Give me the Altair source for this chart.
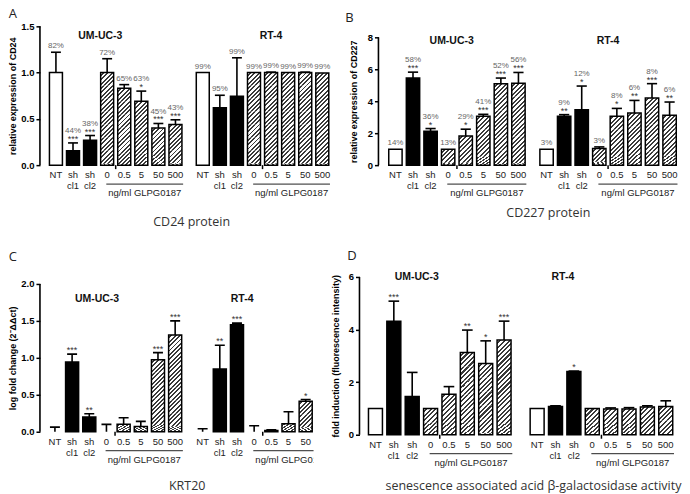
import altair as alt
import pandas as pd

# ---------------- data ----------------
LABELS = ["NT", "sh\ncl1", "sh\ncl2", "0", "0.5", "5", "50", "500"]
KINDS = ["open", "solid", "solid", "hatch", "hatch", "hatch", "hatch", "hatch"]
GROUPS = ["UM-UC-3", "RT-4"]
DOSE_LABEL = "ng/ml GLPG0187"

# Panel A - CD24 protein
CD24_UM_MEAN = [1.00, 0.155, 0.27, 1.00, 0.83, 0.69, 0.40, 0.44]
CD24_UM_ERR = [1.22, 0.24, 0.32, 1.15, 0.87, 0.80, 0.45, 0.49]
CD24_UM_PCT = ["82%", "44%", "38%", "72%", "65%", "63%", "45%", "43%"]
CD24_UM_SIG = ["", "***", "***", "", "", "*", "***", "***"]
CD24_RT_MEAN = [1.00, 0.62, 0.745, 1.00, 1.00, 1.00, 1.00, 0.995]
CD24_RT_ERR = [1.00, 0.755, 1.16, 1.00, 1.005, 1.00, 1.005, 0.995]
CD24_RT_PCT = ["99%", "95%", "99%", "99%", "99%", "99%", "99%", "99%"]
CD24_RT_SIG = ["", "", "", "", "", "", "", ""]

# Panel B - CD227 protein
CD227_UM_MEAN = [1.00, 5.45, 2.12, 1.00, 1.83, 3.06, 5.09, 5.13]
CD227_UM_ERR = [1.00, 5.82, 2.29, 1.00, 2.25, 3.18, 5.45, 5.80]
CD227_UM_PCT = ["14%", "58%", "36%", "13%", "29%", "41%", "52%", "56%"]
CD227_UM_SIG = ["", "***", "*", "", "*", "***", "***", "***"]
CD227_RT_MEAN = [1.00, 3.06, 3.47, 1.04, 3.06, 3.26, 4.20, 3.12]
CD227_RT_ERR = [1.00, 3.16, 4.95, 1.14, 3.55, 4.05, 5.10, 3.95]
CD227_RT_PCT = ["3%", "9%", "12%", "3%", "8%", "6%", "8%", "6%"]
CD227_RT_SIG = ["", "**", "*", "", "*", "**", "***", "**"]

# Panel C - KRT20 (RT-4 500 ng/ml bar is cut off in the figure)
KRT20_UM_MEAN = [0.00, 0.944, 0.198, 0.00, 0.10, 0.07, 0.975, 1.31]
KRT20_UM_ERR = [0.063, 1.05, 0.243, 0.10, 0.19, 0.14, 1.07, 1.50]
KRT20_UM_SIG = ["", "***", "**", "", "", "", "***", "***"]
KRT20_RT_MEAN = [0.00, 0.85, 1.447, 0.00, 0.018, 0.108, 0.413]
KRT20_RT_ERR = [0.04, 1.17, 1.47, 0.08, 0.025, 0.27, 0.436]
KRT20_RT_SIG = ["", "**", "***", "", "", "", "*"]

# Panel D - senescence associated acid beta-galactosidase activity
SA_UM_MEAN = [1.00, 4.32, 1.45, 1.00, 1.54, 3.13, 2.71, 3.60]
SA_UM_ERR = [1.00, 5.08, 2.37, 1.00, 1.83, 3.98, 3.57, 4.32]
SA_UM_SIG = ["", "***", "", "", "", "**", "*", "***"]
SA_RT_MEAN = [1.00, 1.07, 2.40, 1.00, 0.98, 0.98, 1.05, 1.07]
SA_RT_ERR = [1.00, 1.10, 2.42, 1.00, 1.02, 1.03, 1.10, 1.29]
SA_RT_SIG = ["", "", "*", "", "", "", "", ""]

# ---------------- layout (pixels) ----------------
PANELS = [
    dict(letter="A", series=[(CD24_UM_MEAN, CD24_UM_ERR, CD24_UM_PCT, CD24_UM_SIG),
                             (CD24_RT_MEAN, CD24_RT_ERR, CD24_RT_PCT, CD24_RT_SIG)],
         step=17.1, x0_px=56, axis_px=40, right_px=338, rt_off=8.6,
         ymax=1.5, h_data=139, top_ext=1, bot_ext=66,
         ticks=[0, 0.5, 1.0, 1.5], fmt=".1f", title="relative expression of CD24", title_pad=3,
         grp_x=[2.6, 12.6], grp_y=1.40, caption="CD24 protein", cap_x=7.95, cap_px=57,
         clip=False, letter_dx=0, letter_off=0),
    dict(letter="B", series=[(CD227_UM_MEAN, CD227_UM_ERR, CD227_UM_PCT, CD227_UM_SIG),
                             (CD227_RT_MEAN, CD227_RT_ERR, CD227_RT_PCT, CD227_RT_SIG)],
         step=17.6, x0_px=393, axis_px=376, right_px=676, rt_off=8.6,
         ymax=8, h_data=128, top_ext=12, bot_ext=66,
         ticks=[0, 2, 4, 6, 8], fmt="d", title="relative expression of CD227", title_pad=9,
         grp_x=[3.2, 12.1], grp_y=7.8, caption="CD227 protein", cap_x=8.7, cap_px=48,
         clip=False, letter_dx=-4, letter_off=0),
    dict(letter="C", series=[(KRT20_UM_MEAN, KRT20_UM_ERR, None, KRT20_UM_SIG),
                             (KRT20_RT_MEAN, KRT20_RT_ERR, None, KRT20_RT_SIG)],
         step=17.2, x0_px=55, axis_px=40, right_px=314, rt_off=8.6,
         ymax=2, h_data=148, top_ext=11, bot_ext=64,
         ticks=[0, 0.5, 1.0, 1.5, 2.0], fmt=".1f", title="log fold change (2⁻ΔΔct)", title_pad=3,
         grp_x=[2.45, 10.9], grp_y=1.8, caption="KRT20", cap_x=7.7, cap_px=54,
         clip=True, letter_dx=0, letter_off=9),
    dict(letter="D", series=[(SA_UM_MEAN, SA_UM_ERR, None, SA_UM_SIG),
                             (SA_RT_MEAN, SA_RT_ERR, None, SA_RT_SIG)],
         step=18.4, x0_px=376, axis_px=360, right_px=678, rt_off=8.8,
         ymax=6, h_data=158, top_ext=4, bot_ext=61,
         ticks=[0, 2, 4, 6], fmt="d", title="fold induction (fluorescence intensity)", title_pad=8,
         grp_x=[2.25, 10.2], grp_y=6.0,
         caption="senescence associated acid β-galactosidase activity", cap_x=8.6, cap_px=51,
         clip=False, letter_dx=16, letter_off=9),
]

BAR_FRAC = 0.76
CAP_FRAC = 0.58
FONT = "Liberation Sans"

# diagonal hatch fill for the GLPG0187 bars
N_STRIPES = 6
_stops = []
for i in range(N_STRIPES):
    a = i / N_STRIPES
    b = (i + 0.55) / N_STRIPES
    c = (i + 1) / N_STRIPES
    _stops += [alt.GradientStop(offset=a, color="#ffffff"),
               alt.GradientStop(offset=b, color="#ffffff"),
               alt.GradientStop(offset=b, color="#3a3a3a"),
               alt.GradientStop(offset=c, color="#3a3a3a")]
HATCH = alt.LinearGradient(gradient="linear", stops=_stops, x1=0, y1=0, x2=1, y2=1)


def build_panel(cfg):
    step = cfg["step"]
    xmin = (cfg["axis_px"] - cfg["x0_px"]) / step
    xmax = (cfg["right_px"] - cfg["x0_px"]) / step
    width = cfg["right_px"] - cfg["axis_px"]
    ppu = cfg["h_data"] / cfg["ymax"]
    ylo = -cfg["bot_ext"] / ppu
    yhi = cfg["ymax"] + cfg["top_ext"] / ppu
    height = cfg["h_data"] + cfg["top_ext"] + cfg["bot_ext"]
    clip = cfg["clip"]

    rows = []
    for g, (gname, (means, errs, pcts, sigs)) in enumerate(zip(GROUPS, cfg["series"])):
        off = 0.0 if g == 0 else cfg["rt_off"]
        for i, m in enumerate(means):
            rows.append(dict(group=gname, label=LABELS[i], kind=KINDS[i], mean=m, err=errs[i],
                             pct=(pcts[i] if pcts else ""), sig=sigs[i], pos=i + off))
    df = pd.DataFrame(rows)
    df["zero"] = 0.0
    df["xl"] = df["pos"] - BAR_FRAC / 2
    df["xr"] = df["pos"] + BAR_FRAC / 2
    df["cl"] = df["pos"] - CAP_FRAC / 2
    df["cr"] = df["pos"] + CAP_FRAC / 2

    xs = alt.Scale(domain=[xmin, xmax], nice=False, zero=False)
    ys = alt.Scale(domain=[ylo, yhi], nice=False, zero=False)
    yax = alt.Axis(values=cfg["ticks"], format=cfg["fmt"], title=cfg["title"],
                   titleY=cfg["top_ext"] + cfg["h_data"] / 2, titlePadding=cfg["title_pad"],
                   domain=False, ticks=True, tickSize=4, tickWidth=1.5, tickColor="black",
                   grid=False, labelFont=FONT, labelFontWeight="bold", labelFontSize=9.5,
                   labelColor="black", labelPadding=2, titleFont=FONT, titleFontWeight="bold",
                   titleFontSize=9, titleColor="black")

    def X(f):
        return alt.X(f, type="quantitative", scale=xs, axis=None)

    def Y(f):
        return alt.Y(f, type="quantitative", scale=ys, axis=yax)

    layers = []
    bars = df[(df["kind"] != "hatch") & (df["mean"] > 0)]
    layers.append(alt.Chart(bars).mark_bar(stroke="black", strokeWidth=1.5, clip=clip).encode(
        x=X("xl"), x2="xr", y=Y("zero"), y2="mean",
        fill=alt.Fill("kind:N", scale=alt.Scale(domain=["open", "solid"], range=["white", "black"]),
                      legend=None)))

    # hatch segments (square tiles so the stripes stay at 45 degrees)
    seg_h = BAR_FRAC * step / ppu
    segs = []
    for r in df[(df["kind"] == "hatch") & (df["mean"] > 0)].itertuples():
        top = r.mean
        while top > 1e-9:
            bot = max(top - seg_h, 0.0)
            segs.append(dict(xl=r.xl, xr=r.xr, y0=bot, y1=top))
            top = bot
    if segs:
        layers.append(alt.Chart(pd.DataFrame(segs)).mark_bar(fill=HATCH, strokeWidth=0, clip=clip).encode(
            x=X("xl"), x2="xr", y=Y("y0"), y2="y1"))
    hb = df[(df["kind"] == "hatch") & (df["mean"] > 0)]
    layers.append(alt.Chart(hb).mark_bar(fillOpacity=0, stroke="black", strokeWidth=1.5, clip=clip).encode(
        x=X("xl"), x2="xr", y=Y("zero"), y2="mean"))

    # error bars (upper only)
    de = df[df["err"] > df["mean"] + 1e-6]
    layers.append(alt.Chart(de).mark_rule(color="black", strokeWidth=1.6, clip=clip).encode(
        x=X("pos"), y=Y("mean"), y2="err"))
    layers.append(alt.Chart(de).mark_rule(color="black", strokeWidth=1.6, clip=clip).encode(
        x=X("cl"), x2="cr", y=Y("err")))

    # significance stars and percentages
    ds = df[df["sig"] != ""]
    if len(ds):
        layers.append(alt.Chart(ds).mark_text(font=FONT, fontSize=9, color="#333", baseline="alphabetic",
                                              dy=-1, clip=clip).encode(
            x=X("pos"), y=Y("err"), text="sig:N"))
    dp1 = df[(df["pct"] != "") & (df["sig"] != "")]
    if len(dp1):
        layers.append(alt.Chart(dp1).mark_text(font=FONT, fontSize=8, color="#666", baseline="alphabetic",
                                               dy=-10, clip=clip).encode(
            x=X("pos"), y=Y("err"), text="pct:N"))
    dp2 = df[(df["pct"] != "") & (df["sig"] == "")]
    if len(dp2):
        layers.append(alt.Chart(dp2).mark_text(font=FONT, fontSize=8, color="#666", baseline="alphabetic",
                                               dy=-4, clip=clip).encode(
            x=X("pos"), y=Y("err"), text="pct:N"))

    # category labels below the bars
    layers.append(alt.Chart(df).mark_text(font=FONT, fontSize=9.5, color="#222", baseline="top",
                                          dy=5, lineBreak="\n", lineHeight=11, clip=clip).encode(
        x=X("pos"), y=Y("zero"), text="label:N"))

    # dose group line + label, small axis tick, cell-line titles
    grp_rows = []
    for g, gname in enumerate(GROUPS):
        off = 0.0 if g == 0 else cfg["rt_off"]
        grp_rows.append(dict(group=gname, gx0=3 + off - 0.05, gx1=7 + off + 0.45, gmid=5.2 + off,
                             tick=3.5 + off, zero=0.0, ly=-19 / ppu, ty=-4 / ppu,
                             title=gname, title_x=cfg["grp_x"][g], title_y=cfg["grp_y"],
                             dose=DOSE_LABEL))
    dg = pd.DataFrame(grp_rows)
    layers.append(alt.Chart(dg).mark_rule(color="#222", strokeWidth=1, clip=clip).encode(
        x=X("gx0"), x2="gx1", y=Y("ly")))
    layers.append(alt.Chart(dg).mark_text(font=FONT, fontSize=9.5, color="#222", baseline="middle",
                                          dy=28, clip=clip).encode(
        x=X("gmid"), y=Y("zero"), text="dose:N"))
    layers.append(alt.Chart(dg).mark_rule(color="black", strokeWidth=1.5, clip=clip).encode(
        x=X("tick"), y=Y("zero"), y2="ty"))
    layers.append(alt.Chart(dg).mark_text(font=FONT, fontSize=10.5, fontWeight="bold", color="#111",
                                          baseline="middle", clip=clip).encode(
        x=X("title_x"), y=Y("title_y"), text="title:N"))

    # caption
    dc = pd.DataFrame([dict(cx=cfg["cap_x"], zero=0.0, cap=cfg["caption"])])
    layers.append(alt.Chart(dc).mark_text(font="Open Sans", fontSize=12.5, color="#333",
                                          baseline="middle", dy=cfg["cap_px"], clip=clip).encode(
        x=X("cx"), y=Y("zero"), text="cap:N"))

    # y axis line
    da = pd.DataFrame([dict(ax=xmin, y0=0.0, y1=cfg["ymax"])])
    layers.append(alt.Chart(da).mark_rule(color="black", strokeWidth=1.6).encode(
        x=X("ax"), y=Y("y0"), y2="y1"))

    return alt.layer(*layers).properties(
        width=width, height=height,
        title=alt.TitleParams(text=cfg["letter"], anchor="start", frame="bounds", fontSize=13,
                              font="Open Sans", fontWeight="normal", color="#222",
                              offset=cfg["letter_off"], dx=cfg["letter_dx"]))


pa, pb, pc, pd_ = [build_panel(c) for c in PANELS]

chart = alt.vconcat(
    alt.hconcat(pa, pb, spacing=7),
    alt.hconcat(pc, pd_, spacing=17),
    spacing=19,
).properties(padding=0, background="white").configure_view(stroke=None)

chart.save("out.html", embed_options={"renderer": "svg", "actions": False})
